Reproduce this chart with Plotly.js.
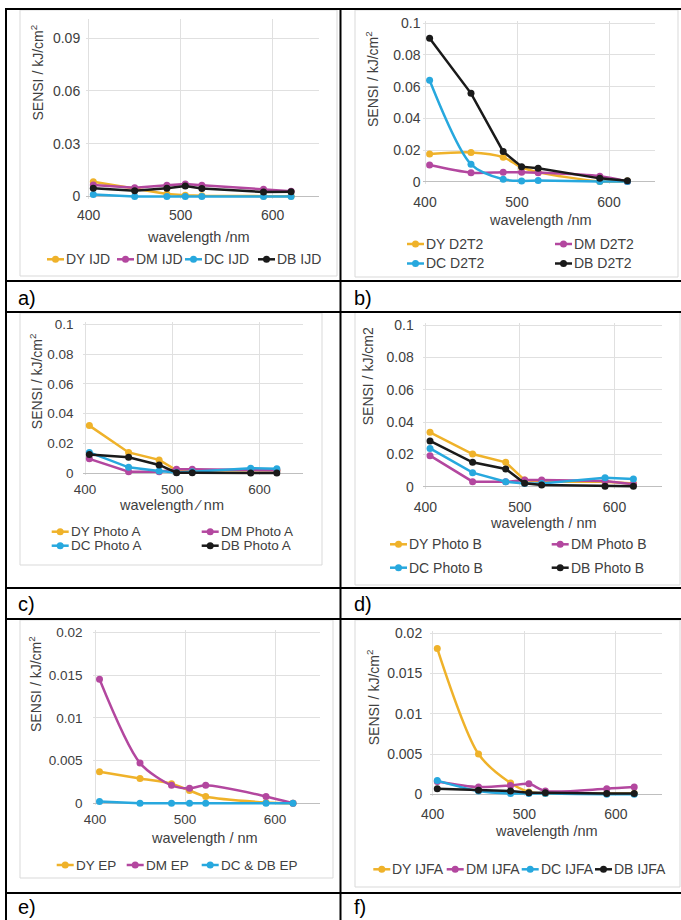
<!DOCTYPE html>
<html>
<head>
<meta charset="utf-8">
<script src="https://cdn.plot.ly/plotly-3.0.1.min.js"></script>
<style>
html, body { margin: 0; padding: 0; background: #ffffff; }
#chart { width: 681px; height: 920px; }
</style>
</head>
<body>
<div id="chart"></div>
<script>
// ---------------- data ----------------
const wavelength = [405, 450, 485, 505, 523, 590, 620];
const seriesColors = ['#EFB22A', '#B3479F', '#27A8DE', '#1A1A1A'];
const xTitleSlash = 'wavelength /nm';

// a) IJD
const namesA = ['DY IJD', 'DM IJD', 'DC IJD', 'DB IJD'];
const dyIJD = [0.0084, 0.0045, 0.0014, 0.0007, 0.0004, 0.0002, 0.0002];
const dmIJD = [0.0065, 0.0050, 0.0064, 0.0071, 0.0064, 0.0041, 0.0030];
const dcIJD = [0.0012, 0.0000, 0.0000, 0.0000, 0.0000, 0.0000, 0.0000];
const dbIJD = [0.0047, 0.0033, 0.0047, 0.0060, 0.0045, 0.0026, 0.0027];

// b) D2T2
const namesB = ['DY D2T2', 'DM D2T2', 'DC D2T2', 'DB D2T2'];
const dyD2T2 = [0.0175, 0.0185, 0.0155, 0.0090, 0.0060, 0.0002, 0.0005];
const dmD2T2 = [0.0105, 0.0057, 0.0060, 0.0060, 0.0057, 0.0035, 0.0002];
const dcD2T2 = [0.0640, 0.0110, 0.0015, 0.0005, 0.0007, 0.0002, 0.0002];
const dbD2T2 = [0.0905, 0.0558, 0.0190, 0.0095, 0.0085, 0.0021, 0.0006];

// c) Photo A
const namesC = ['DY Photo A', 'DM Photo A', 'DC Photo A', 'DB Photo A'];
const dyPhotoA = [0.0320, 0.0140, 0.0090, 0.0020, 0.0020, 0.0020, 0.0020];
const dmPhotoA = [0.0097, 0.0010, 0.0010, 0.0027, 0.0027, 0.0022, 0.0020];
const dcPhotoA = [0.0140, 0.0040, 0.0015, 0.0005, 0.0010, 0.0034, 0.0030];
const dbPhotoA = [0.0127, 0.0107, 0.0056, 0.0004, 0.0004, 0.0002, 0.0002];

// d) Photo B
const namesD = ['DY Photo B', 'DM Photo B', 'DC Photo B', 'DB Photo B'];
const dyPhotoB = [0.0336, 0.0202, 0.0151, 0.0041, 0.0030, 0.0030, 0.0020];
const dmPhotoB = [0.0192, 0.0031, 0.0030, 0.0041, 0.0041, 0.0035, 0.0015];
const dcPhotoB = [0.0237, 0.0087, 0.0031, 0.0020, 0.0020, 0.0056, 0.0048];
const dbPhotoB = [0.0283, 0.0151, 0.0110, 0.0021, 0.0010, 0.0003, 0.0003];

// e) EP
const namesE = ['DY EP', 'DM EP', 'DC & DB EP'];
const dyEP = [0.0037, 0.0029, 0.0023, 0.0015, 0.0008, 0.0001, 0.0000];
const dmEP = [0.0145, 0.0047, 0.0021, 0.00175, 0.0021, 0.0008, 0.0000];
const dcdbEP = [0.0002, 0.0000, 0.0000, 0.0000, 0.0000, 0.0000, 0.0000];

// f) IJFA
const namesF = ['DY IJFA', 'DM IJFA', 'DC IJFA', 'DB IJFA'];
const dyIJFA = [0.0181, 0.0050, 0.0014, 0.0003, 0.0001, 0.0001, 0.0001];
const dmIJFA = [0.0016, 0.0009, 0.0011, 0.0013, 0.0004, 0.0007, 0.0009];
const dcIJFA = [0.0017, 0.0004, 0.0001, 0.0001, 0.0001, 0.0000, 0.0000];
const dbIJFA = [0.0007, 0.0005, 0.0004, 0.0002, 0.0002, 0.0001, 0.0001];

const panelLabels = ['a)', 'b)', 'c)', 'd)', 'e)', 'f)'];

// ---------------- layout geometry (pixels) ----------------
const W = 681, H = 920;
const px = v => v / W;
const py = v => 1 - v / H;
const FONT = '"Liberation Sans", Arial, sans-serif';
const TEXT = '#404040';

const panels = [
  { names: namesA, values: [dyIJD, dmIJD, dcIJD, dbIJD], colors: [0,1,2,3], smooth: [false,false,false,false],
    x0: 88.7, x1: 318.7, yZero: 196.5, yTop: 20.5, ymax: 0.1, dtick: 0.03, fs: 14,
    xStand: 6, yStand: 5,
    yTitle: 'SENSI / kJ/cm<sup>2</sup>', yT: [38, 72.5], xTitle: 'wavelength /nm', xT: [198, 237],
    legend: [[47, 259.3], [117, 259.3], [185, 259.3], [258, 259.3]], box: [20, 10, 337, 276], label: [16, 298] },
  { names: namesB, values: [dyD2T2, dmD2T2, dcD2T2, dbD2T2], colors: [0,1,2,3], smooth: [true,true,true,false],
    x0: 425, x1: 655, yZero: 181.7, yTop: 23.3, ymax: 0.1, dtick: 0.02, fs: 14,
    xStand: 8, yStand: 1,
    yTitle: 'SENSI / kJ/cm<sup>2</sup>', yT: [372, 79], xTitle: 'wavelength /nm', xT: [540, 220],
    legend: [[407, 244], [555, 244], [407, 263.5], [555, 263.5]], box: [355, 10, 678, 277], label: [352, 298] },
  { names: namesC, values: [dyPhotoA, dmPhotoA, dcPhotoA, dbPhotoA], colors: [0,1,2,3], smooth: [false,false,false,false],
    x0: 85, x1: 303, yZero: 473.3, yTop: 324.3, ymax: 0.1, dtick: 0.02, fs: 13.5,
    xStand: 4, yStand: 8,
    yTitle: 'SENSI / kJ/cm<sup>2</sup>', yT: [36.7, 381.5], xTitle: 'wavelength \u2215 nm', xT: [171, 505],
    legend: [[51.7, 531.7], [201.7, 531.7], [51.7, 545.7], [201.7, 545.7]], box: [20, 313, 322, 565], label: [16, 604] },
  { names: namesD, values: [dyPhotoB, dmPhotoB, dcPhotoB, dbPhotoB], colors: [0,1,2,3], smooth: [false,false,false,false],
    x0: 425.3, x1: 661.8, yZero: 486.7, yTop: 325, ymax: 0.1, dtick: 0.02, fs: 14,
    xStand: 8, yStand: 8,
    yTitle: 'SENSI / kJ/cm2', yT: [368.3, 376], xTitle: 'wavelength / nm', xT: [543.3, 523.3],
    legend: [[390, 544.3], [551.7, 544.3], [390, 567.7], [551.7, 567.7]], box: [355, 312, 680, 585], label: [352, 604] },
  { names: namesE, values: [dyEP, dmEP, dcdbEP], colors: [0,1,2], smooth: [true,true,false],
    x0: 95, x1: 320, yZero: 803.3, yTop: 632.3, ymax: 0.02, dtick: 0.005, fs: 13.5,
    xStand: 4, yStand: 9,
    yTitle: 'SENSI / kJ/cm<sup>2</sup>', yT: [35, 684], xTitle: 'wavelength / nm', xT: [204, 838.3],
    legend: [[56.7, 865], [126.7, 865], [201.7, 865]], box: [20, 620, 333, 878], label: [16, 907] },
  { names: namesF, values: [dyIJFA, dmIJFA, dcIJFA, dbIJFA], colors: [0,1,2,3], smooth: [true,true,true,false],
    x0: 432.7, x1: 661.7, yZero: 794.3, yTop: 633.3, ymax: 0.02, dtick: 0.005, fs: 14,
    xStand: 8, yStand: 7,
    yTitle: 'SENSI / kJ/cm<sup>2</sup>', yT: [373.3, 697], xTitle: 'wavelength /nm', xT: [546.7, 830.7],
    legend: [[373.3, 869.3], [446.7, 869.3], [521.7, 869.3], [595, 869.3]], box: [355, 620, 680, 887], label: [352, 907] }
];

const layout = {
  width: W, height: H,
  margin: { l: 0, r: 0, t: 0, b: 0, autoexpand: false },
  paper_bgcolor: '#ffffff', plot_bgcolor: 'rgba(0,0,0,0)',
  showlegend: false,
  font: { family: FONT, color: TEXT, size: 14 },
  shapes: [], annotations: []
};
const traces = [];

panels.forEach((p, i) => {
  const sfx = i === 0 ? '' : String(i + 1);
  const xs = 250 / (p.x1 - p.x0);
  const ys = p.ymax / (p.yZero - p.yTop);
  const padL = 2.5, padB = 2, padT = 2;

  // chart area border
  layout.shapes.push({ type: 'rect', xref: 'paper', yref: 'paper', layer: 'below',
    x0: px(p.box[0]), x1: px(p.box[2]), y0: py(p.box[3]), y1: py(p.box[1]),
    line: { color: '#d9d9d9', width: 1 } });

  layout['xaxis' + sfx] = {
    domain: [px(p.x0 - padL), px(p.x1)],
    range: [400 - padL * xs, 650],
    anchor: 'y' + sfx,
    tickmode: 'linear', tick0: 400, dtick: 100,
    showgrid: true, gridcolor: '#e0e0e0', gridwidth: 1,
    zeroline: false, showline: false, ticks: '',
    tickfont: { size: p.fs, color: TEXT, family: FONT },
    ticklabelstandoff: p.xStand, fixedrange: true
  };
  layout['yaxis' + sfx] = {
    domain: [py(p.yZero + padB), py(p.yTop - padT)],
    range: [-padB * ys, p.ymax + padT * ys],
    anchor: 'x' + sfx,
    tickmode: 'linear', tick0: 0, dtick: p.dtick,
    showgrid: true, gridcolor: '#e0e0e0', gridwidth: 1,
    zeroline: true, zerolinecolor: '#bfbfbf', zerolinewidth: 1,
    showline: false, ticks: '',
    tickfont: { size: p.fs, color: TEXT, family: FONT },
    ticklabelstandoff: p.yStand, fixedrange: true
  };

  p.values.forEach((vals, k) => {
    const c = seriesColors[p.colors[k]];
    traces.push({
      type: 'scatter', mode: 'lines+markers',
      x: wavelength, y: vals, name: p.names[k],
      xaxis: 'x' + sfx, yaxis: 'y' + sfx,
      line: { color: c, width: 2.5, shape: p.smooth[k] ? 'spline' : 'linear', smoothing: 0.8 },
      marker: { color: c, size: 7 },
      cliponaxis: false, hoverinfo: 'skip'
    });
    // legend entry
    const [sx, sy] = p.legend[k];
    layout.shapes.push({ type: 'line', xref: 'paper', yref: 'paper',
      x0: px(sx), x1: px(sx + 17), y0: py(sy), y1: py(sy), line: { color: c, width: 2.5 } });
    layout.shapes.push({ type: 'circle', xref: 'paper', yref: 'paper',
      x0: px(sx + 5), x1: px(sx + 12), y0: py(sy + 3.5), y1: py(sy - 3.5),
      fillcolor: c, line: { color: c, width: 0 } });
    layout.annotations.push({ xref: 'paper', yref: 'paper', x: px(sx + 17), y: py(sy),
      xanchor: 'left', yanchor: 'middle', showarrow: false, text: p.names[k],
      font: { size: p.fs, color: TEXT, family: FONT } });
  });

  // axis titles
  layout.annotations.push({ xref: 'paper', yref: 'paper', x: px(p.yT[0]), y: py(p.yT[1]),
    xanchor: 'center', yanchor: 'middle', textangle: -90, showarrow: false, text: p.yTitle,
    font: { size: 14, color: TEXT, family: FONT } });
  layout.annotations.push({ xref: 'paper', yref: 'paper', x: px(p.xT[0]), y: py(p.xT[1]),
    xanchor: 'center', yanchor: 'middle', showarrow: false, text: p.xTitle,
    font: { size: 14.5, color: TEXT, family: FONT } });

  // panel label
  layout.annotations.push({ xref: 'paper', yref: 'paper', x: px(p.label[0]), y: py(p.label[1]),
    xanchor: 'left', yanchor: 'middle', showarrow: false, text: panelLabels[i],
    font: { size: 20, color: '#000000', family: FONT } });
});

// table grid lines
const hLines = [9, 281, 312, 588, 619, 893];
const vLines = [6, 340.5];
hLines.forEach(y => layout.shapes.push({ type: 'line', xref: 'paper', yref: 'paper', layer: 'above',
  x0: px(5), x1: 1, y0: py(y), y1: py(y), line: { color: '#000000', width: 2 } }));
vLines.forEach(x => layout.shapes.push({ type: 'line', xref: 'paper', yref: 'paper', layer: 'above',
  x0: px(x), x1: px(x), y0: py(8), y1: 0, line: { color: '#000000', width: 2 } }));

Plotly.newPlot('chart', traces, layout, { staticPlot: true, displayModeBar: false });
</script>
</body>
</html>
